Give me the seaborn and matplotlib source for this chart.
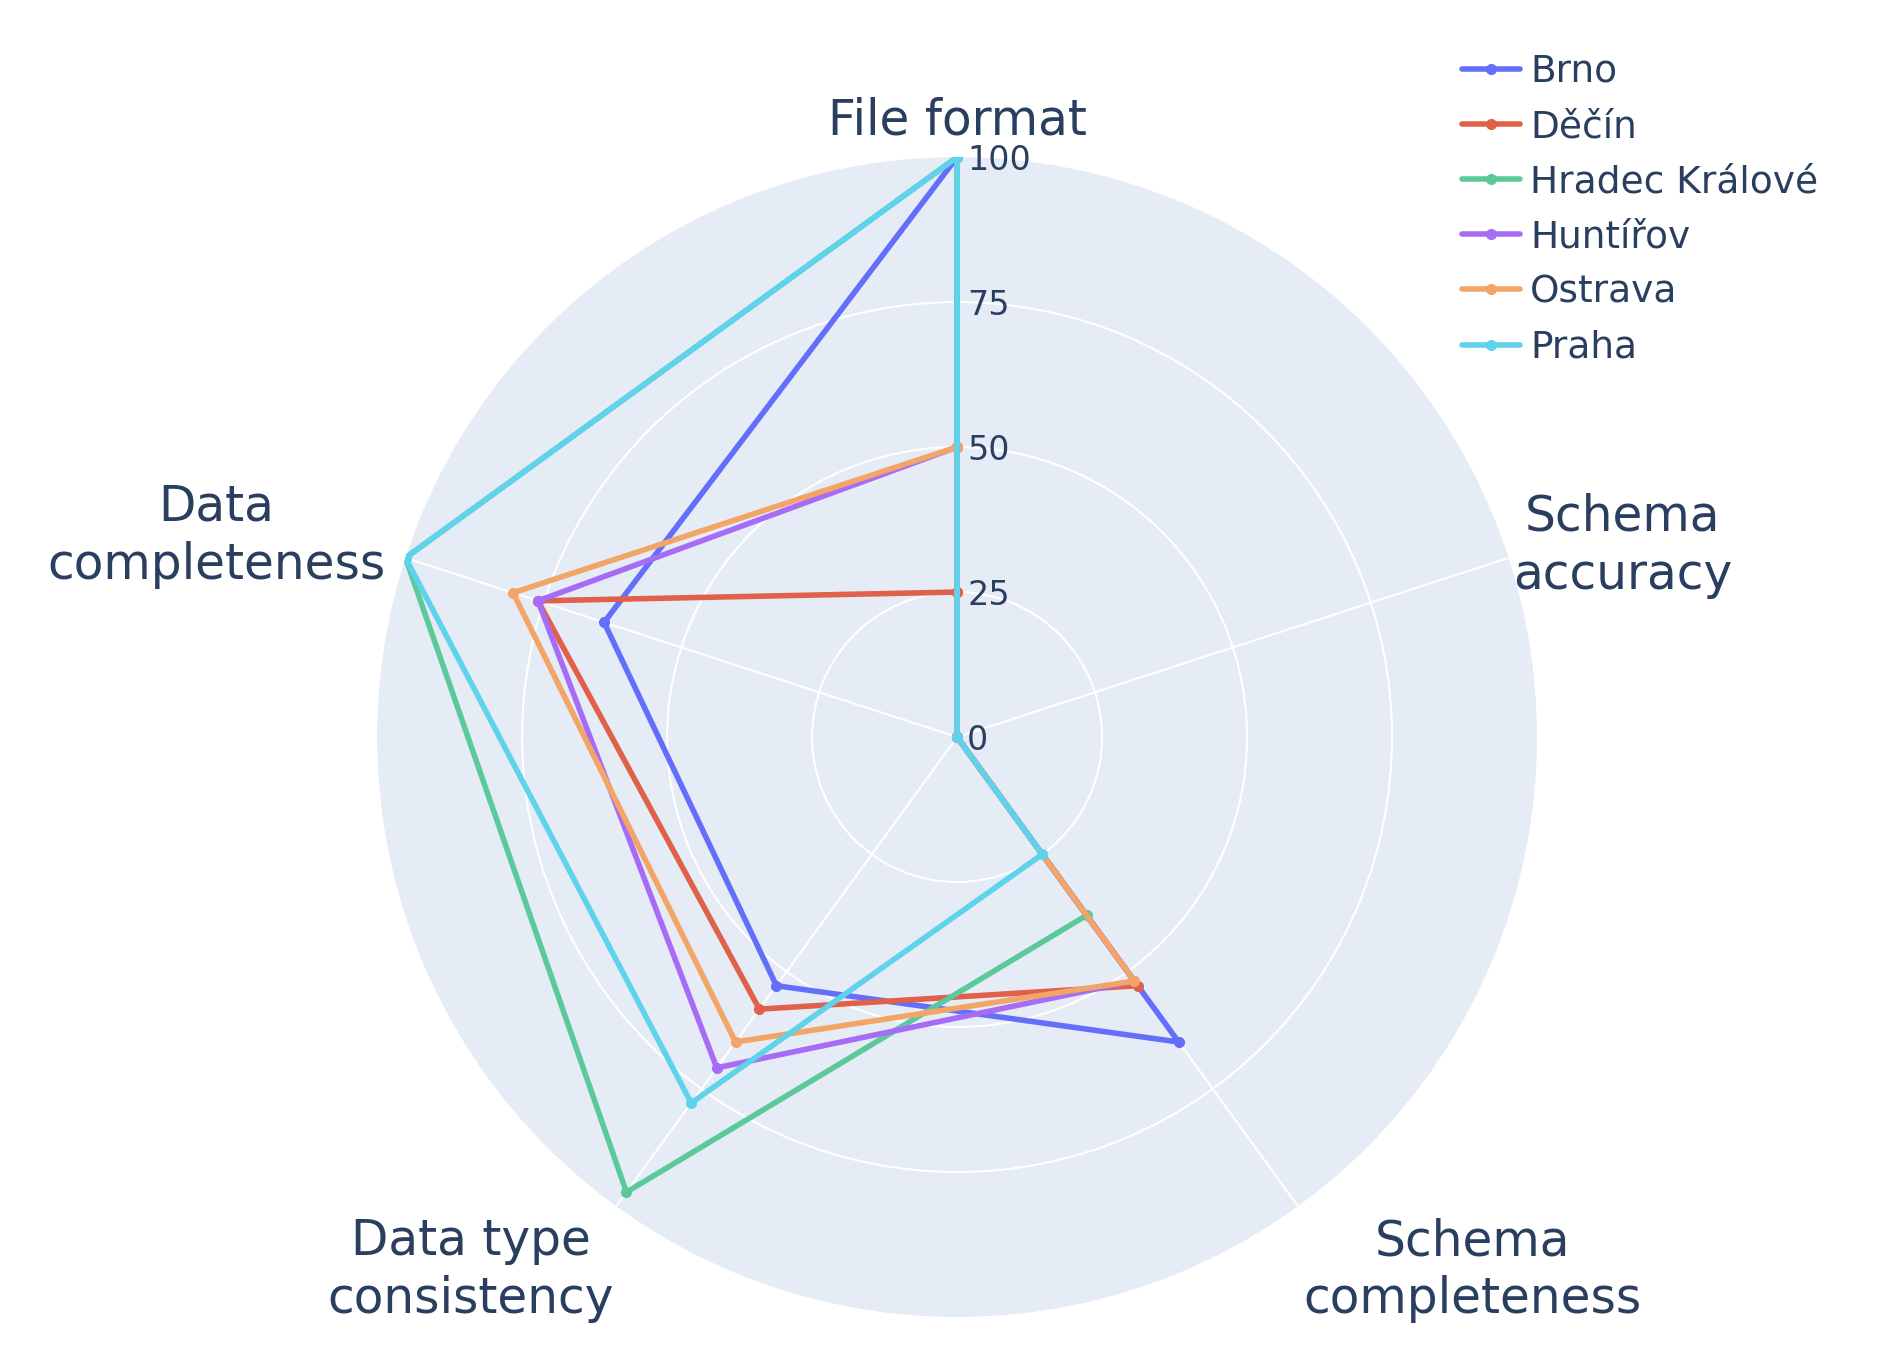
import numpy as np
import pandas as pd
import matplotlib
matplotlib.use("Agg")
import matplotlib.pyplot as plt
import matplotlib.transforms as mtransforms
import seaborn as sns

# radar axes, clockwise from the top
categories = ["File format", "Schema accuracy", "Schema completeness",
              "Data type consistency", "Data completeness"]
axis_labels = ["File format", "Schema\naccuracy", "Schema\ncompleteness",
               "Data type\nconsistency", "Data\ncompleteness"]

cities = ["Brno", "Děčín", "Hradec Králové", "Huntířov", "Ostrava", "Praha"]
brno = [100, 0, 65, 53, 64]
decin = [25, 0, 53, 58, 76]
hradec = [100, 0, 38, 97, 100]
huntirov = [50, 0, 52, 70.5, 76]
ostrava = [50, 0, 52, 65, 80.5]
praha = [100, 0, 25, 78, 100]

colors = ["#636EFA", "#E0604A", "#5CC99B", "#A66CF6", "#F2A566", "#5FD2EC"]
r_ticks = [0, 25, 50, 75, 100]

sns.set_theme(style="white")
plt.rcParams["font.family"] = ["DejaVu Sans"]
text_color = "#2a3f5f"

series = [brno, decin, hradec, huntirov, ostrava, praha]
angles = np.linspace(0, 2 * np.pi, len(categories), endpoint=False)
theta = np.append(angles, angles[0] + 2 * np.pi)

rows = []
for city, vals in zip(cities, series):
    for i, t in enumerate(theta):
        rows.append({"city": city, "theta": t, "score": vals[i % len(vals)]})
df = pd.DataFrame(rows)

fig = plt.figure(figsize=(18.77, 13.71), dpi=100)
ax = fig.add_axes([0.2009, 0.0394, 0.618, 0.846], projection="polar")
ax.set_facecolor("#E5ECF6")
ax.set_theta_offset(np.pi / 2)
ax.set_theta_direction(-1)
ax.set_axisbelow(True)

for city, col in zip(cities, colors):
    sub = df[df["city"] == city]
    sns.lineplot(data=sub, x="theta", y="score", ax=ax, sort=False, estimator=None,
                 color=col, lw=4, marker="o", markersize=8, markeredgewidth=0,
                 label=city)

ax.set_xlim(0, 2 * np.pi)
ax.set_ylim(0, 100)
ax.set_xlabel("")
ax.set_ylabel("")
ax.set_xticks(angles)
ax.set_xticklabels([])
ax.set_yticks([25, 50, 75])
ax.set_yticklabels([])
ax.grid(True, color="white", lw=1.5)
ax.spines["polar"].set_visible(False)

# radial tick labels next to the first spoke
tick_tr = mtransforms.offset_copy(ax.transData, fig=fig, x=10, y=-3, units="dots")
for r in r_ticks:
    ax.text(0, r, str(r), transform=tick_tr, ha="left", va="center",
            fontsize=24, color=text_color)

# category labels around the outside
label_specs = [
    (0, 13, "center", "bottom"),
    (4, 12, "left", "center"),
    (5, -11, "left", "top"),
    (-2, -11, "right", "top"),
    (-20, 22, "right", "center"),
]
for ang, lab, (dx, dy, ha, va) in zip(angles, axis_labels, label_specs):
    tr = mtransforms.offset_copy(ax.transData, fig=fig, x=dx, y=dy, units="dots")
    ax.text(ang, 100, lab, transform=tr, ha=ha, va=va, multialignment="center",
            fontsize=35, color=text_color, linespacing=1.27)

handles, labels = ax.get_legend_handles_labels()
ax.get_legend().remove()
fig.legend(handles, labels, loc="upper left", bbox_to_anchor=(1462 / 1877, 1 - 54 / 1371),
           frameon=False, fontsize=27, labelcolor=text_color, handlelength=1.55,
           handletextpad=0.27, labelspacing=0.51, borderpad=0, borderaxespad=0)

fig.savefig("out.png", dpi=100)
